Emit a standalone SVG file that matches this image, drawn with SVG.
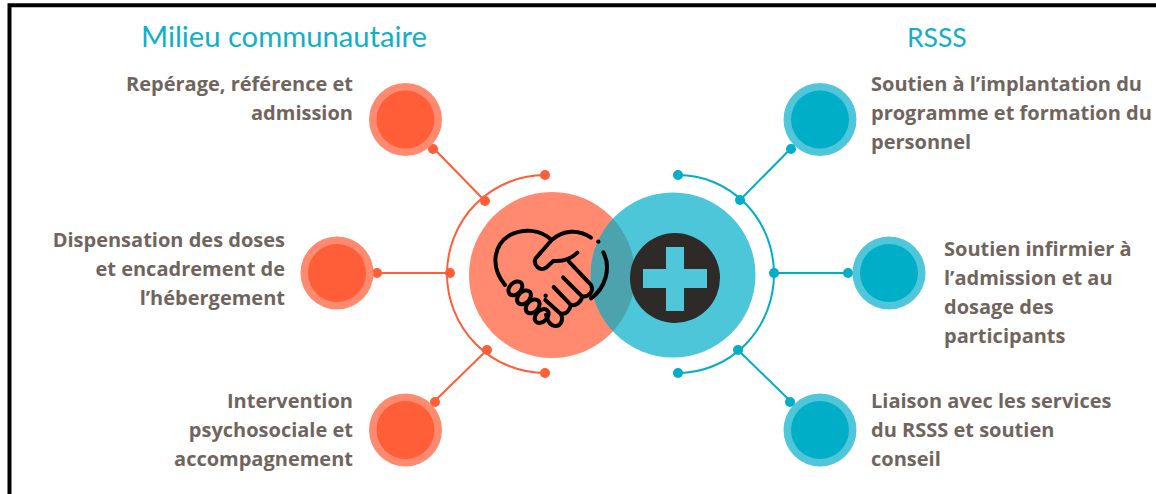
<svg xmlns="http://www.w3.org/2000/svg" width="1156" height="494" viewBox="0 0 1156 494">
<style>
.t{font-family:"Open Sans","Noto Sans",sans-serif;font-weight:700;font-size:20px;fill:#6f655e}
.h{font-family:Lato,"Open Sans",sans-serif;font-size:29.200px;fill:#0fafc9}
.r{text-anchor:end}
.ol{stroke:#ff5e38;stroke-width:2;fill:none}
.bl{stroke:#00aec7;stroke-width:2;fill:none}
.dl{fill:#ff5e38}
.db{fill:#00aec7}
.ho{fill:#ff8a70}
.bo{fill:#4fc6d9}
.hs{fill:none;stroke:#000;stroke-width:12;stroke-linecap:round;stroke-linejoin:round}
</style>
<rect width="1156" height="494" fill="#fff"/>
<path d="M9.500 494V5.300H1156" fill="none" stroke="#000" stroke-width="4"/>
<text class="h" x="141" y="47">Milieu communautaire</text>
<text class="h" x="907" y="47" style="font-size:26.500px">RSSS</text>
<g id="connectors">
<path class="ol" d="M545 175A98 99 0 0 0 545 373M405 119L485 201M337 273H450M405 430L487 350"/>
<path class="bl" d="M678 175A96 99 0 0 1 678 373M820 119L740 200M889 273H774M820 430L738 350"/>
<g class="dl"><circle cx="545" cy="175" r="5"/><circle cx="545" cy="373" r="5"/><circle cx="485" cy="201" r="5"/><circle cx="450" cy="273" r="5"/><circle cx="487" cy="350" r="5"/><circle cx="433" cy="149" r="5"/><circle cx="377" cy="273" r="5"/><circle cx="435" cy="402" r="5"/></g>
<g class="db"><circle cx="678" cy="175" r="5"/><circle cx="678" cy="373" r="5"/><circle cx="740" cy="200" r="5"/><circle cx="774" cy="273" r="5"/><circle cx="738" cy="350" r="5"/><circle cx="791" cy="149" r="5"/><circle cx="848" cy="273" r="5"/><circle cx="790" cy="402" r="5"/></g>
</g>
<g id="center-community">
<circle cx="552" cy="275" r="83" class="ho"/>
</g>
<g id="center-rsss">
<circle cx="673" cy="275" r="82.500" fill="#00aec7" fill-opacity=".7"/>
<circle cx="675" cy="278" r="45" fill="#2e2a27"/>
<path d="M666 247h18v22h23v19h-23v23h-18v-23h-23v-19h23z" fill="#4fc6d9"/>
</g>
<g id="handshake" transform="translate(490 225) scale(.3333)">
<path class="hs" d="M303 38C265 12 220 15 185 45C150 12 100 10 60 30C10 60 0 125 45 180"/>
<path class="hs" d="M185 45L137 100C128 118 150 142 168 128L190 108C215 110 240 105 262 83"/>
<path class="hs" d="M237 110L303 180C312 195 300 216 278 214C272 232 258 243 243 240C238 258 228 270 212 265C222 285 212 304 195 303C180 302 172 285 168 270"/>
<path class="hs" d="M219 157L276 214M191 186L244 241M166 225L210 265"/>
<path class="hs" d="M340 82C365 130 345 190 303 220"/>
<g class="hs"><ellipse cx="76" cy="190" rx="24" ry="17" transform="rotate(-45 76 190)"/><ellipse cx="102" cy="217" rx="24" ry="17" transform="rotate(-45 102 217)"/><ellipse cx="128" cy="244" rx="24" ry="17" transform="rotate(-45 128 244)"/><ellipse cx="155" cy="273" rx="24" ry="17" transform="rotate(-45 155 273)"/></g>
<circle cx="325" cy="50" r="6.500" fill="#000"/><circle cx="167" cy="212" r="6.500" fill="#000"/>
</g>
<g id="n1"><circle cx="405.500" cy="119.500" r="36.500" class="ho"/><circle cx="405.500" cy="119.500" r="29" class="dl"/><text class="t r" x="353" y="91">Repérage, référence et</text><text class="t r" x="353" y="120">admission</text></g>
<g id="n2"><circle cx="337" cy="273" r="36.500" class="ho"/><circle cx="337" cy="273" r="29" class="dl"/><text class="t r" x="285" y="247">Dispensation des doses</text><text class="t r" x="285" y="276">et encadrement de</text><text class="t r" x="285" y="305">l’hébergement</text></g>
<g id="n3"><circle cx="405.500" cy="430" r="36.500" class="ho"/><circle cx="405.500" cy="430" r="29" class="dl"/><text class="t r" x="353" y="408">Intervention</text><text class="t r" x="353" y="437">psychosociale et</text><text class="t r" x="353" y="466">accompagnement</text></g>
<g id="n4"><circle cx="820" cy="119.500" r="36.500" class="bo"/><circle cx="820" cy="119.500" r="29" class="db"/><text class="t" x="871" y="91">Soutien à l’implantation du</text><text class="t" x="871" y="120">programme et formation du</text><text class="t" x="871" y="149">personnel</text></g>
<g id="n5"><circle cx="889" cy="273" r="36.500" class="bo"/><circle cx="889" cy="273" r="29" class="db"/><text class="t" x="944" y="256">Soutien infirmier à</text><text class="t" x="944" y="285">l’admission et au</text><text class="t" x="944" y="314">dosage des</text><text class="t" x="944" y="343">participants</text></g>
<g id="n6"><circle cx="820" cy="430" r="36.500" class="bo"/><circle cx="820" cy="430" r="29" class="db"/><text class="t" x="871" y="408">Liaison avec les services</text><text class="t" x="871" y="437">du RSSS et soutien</text><text class="t" x="871" y="466">conseil</text></g>
</svg>
